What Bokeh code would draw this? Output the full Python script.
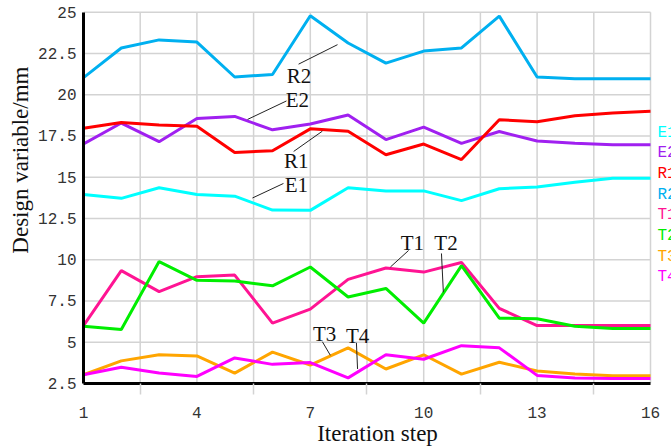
import math
from bokeh.plotting import figure
from bokeh.models import Range1d, FixedTicker, Title
from bokeh.embed import file_html
from bokeh.resources import INLINE
from bokeh.core.properties import value

steps = list(range(1, 17))
E1 = [13.95, 13.72, 14.36, 13.95, 13.85, 13.01, 12.99, 14.36, 14.17, 14.17, 13.58, 14.30, 14.40, 14.70, 14.93, 14.93]
E2 = [17.01, 18.28, 17.15, 18.56, 18.68, 17.87, 18.22, 18.77, 17.28, 18.03, 17.05, 17.77, 17.19, 17.05, 16.97, 16.97]
R1 = [17.97, 18.32, 18.16, 18.09, 16.50, 16.60, 17.93, 17.79, 16.36, 17.01, 16.07, 18.48, 18.36, 18.72, 18.89, 18.99]
R2 = [21.03, 22.83, 23.32, 23.19, 21.07, 21.22, 24.78, 23.13, 21.91, 22.64, 22.83, 24.76, 21.07, 20.97, 20.97, 20.97]
T1 = [6.01, 9.34, 8.07, 8.97, 9.07, 6.16, 7.01, 8.81, 9.50, 9.25, 9.83, 7.05, 6.01, 6.01, 6.01, 6.01]
T2 = [5.97, 5.77, 9.89, 8.75, 8.71, 8.42, 9.56, 7.74, 8.26, 6.16, 9.64, 6.46, 6.42, 5.97, 5.83, 5.83]
T3 = [3.03, 3.87, 4.24, 4.17, 3.13, 4.40, 3.62, 4.66, 3.38, 4.24, 3.07, 3.79, 3.26, 3.07, 2.97, 2.97]
T4 = [3.03, 3.48, 3.13, 2.93, 4.05, 3.66, 3.77, 2.84, 4.24, 3.97, 4.79, 4.66, 2.99, 2.84, 2.80, 2.80]

series_names = ["E1", "E2", "R1", "R2", "T1", "T2", "T3", "T4"]
series_values = [E1, E2, R1, R2, T1, T2, T3, T4]
series_colors = ["#00FFFF", "#A020F0", "#FF0000", "#00B0F0", "#FF1493", "#00EE00", "#FFA500", "#FF00FF"]

x_min, x_max = 1, 16
y_min, y_max = 2.5, 25
x_ticks = [1, 4, 7, 10, 13, 16]
x_minor = [2.5, 5.5, 8.5, 11.5, 14.5]
y_ticks = [2.5, 5, 7.5, 10, 12.5, 15, 17.5, 20, 22.5, 25]
y_tick_labels = ["2.5", "5", "7.5", "10", "12.5", "15", "17.5", "20", "22.5", "25"]

# annotation labels (data coordinates) and leader lines
ann_text = ["R2", "E2", "R1", "E1", "T3", "T4", "T1", "T2"]
ann_x = [6.70, 6.66, 6.63, 6.63, 7.38, 8.25, 9.70, 10.59]
ann_y = [21.15, 19.65, 16.00, 14.53, 5.47, 5.38, 11.00, 11.00]
lead_x0 = [6.69, 5.34, 6.56, 5.47, 7.32, 8.22, 9.60, 10.47]
lead_y0 = [21.85, 18.50, 16.56, 13.74, 5.03, 4.97, 10.56, 10.38]
lead_x1 = [7.72, 6.37, 7.32, 6.29, 7.53, 8.25, 9.12, 10.52]
lead_y1 = [23.03, 19.62, 17.79, 14.62, 4.21, 3.38, 9.56, 8.03]

# right-edge colored series names
leg_x = 16.185
leg_y = [17.70, 16.45, 15.19, 13.94, 12.69, 11.43, 10.18, 8.93]

W, H = 671, 448
p = figure(width=W, height=H, x_range=Range1d(1, 16.5556), y_range=Range1d(2.5, 25.706),
           output_backend="svg", toolbar_location=None,
           min_border_left=83, min_border_right=0, min_border_top=0, min_border_bottom=54)
p.outline_line_color = None
p.background_fill_color = "white"
p.border_fill_color = "white"
p.xgrid.visible = False
p.ygrid.visible = False

p.xaxis.ticker = FixedTicker(ticks=x_ticks, minor_ticks=x_minor)
p.yaxis.ticker = FixedTicker(ticks=y_ticks, minor_ticks=[])
p.yaxis.major_label_overrides = {t: l for t, l in zip(y_ticks, y_tick_labels)}
p.xaxis.bounds = (x_min, x_max)
p.yaxis.bounds = (y_min, y_max)

for ax in (p.xaxis, p.yaxis):
    ax.axis_line_color = "black"
    ax.axis_line_width = 3
    ax.major_tick_line_color = None
    ax.major_tick_out = 0
    ax.major_tick_in = 0
    ax.major_label_text_font = "Liberation Mono"
    ax.major_label_text_font_size = "16px"
    ax.major_label_text_color = "#333333"
p.yaxis.minor_tick_line_color = None
p.xaxis.minor_tick_line_color = "#D3D3D3"
p.xaxis.minor_tick_line_width = 1.5
p.xaxis.minor_tick_out = 11
p.xaxis.minor_tick_in = 0
p.xaxis.major_label_text_align = "left"
p.xaxis.major_label_standoff = 12
p.yaxis.major_label_standoff = 7

p.xaxis.axis_label = "Iteration step"
p.xaxis.axis_label_text_font = "Liberation Serif"
p.xaxis.axis_label_text_font_size = "23px"
p.xaxis.axis_label_text_font_style = "normal"
p.xaxis.axis_label_text_color = "#111111"
p.xaxis.axis_label_standoff = 0

# grid lines drawn from the tick lists
grid_x = sorted(x_ticks + x_minor)
p.segment(x0=grid_x, y0=[y_min] * len(grid_x), x1=grid_x, y1=[y_max] * len(grid_x),
          line_color="#D3D3D3", line_width=1.5, level="underlay")
p.segment(x0=[x_min] * len(y_ticks), y0=y_ticks, x1=[x_max] * len(y_ticks), y1=y_ticks,
          line_color="#D3D3D3", line_width=1.5, level="underlay")

for name, vals, col in zip(series_names, series_values, series_colors):
    p.line(steps, vals, line_color=col, line_width=3)

p.segment(x0=lead_x0, y0=lead_y0, x1=lead_x1, y1=lead_y1, line_color="#222222", line_width=1)
p.text(x=ann_x, y=ann_y, text=ann_text, text_font=value("Liberation Serif"),
       text_font_size="21px", text_align="center", text_baseline="middle", text_color="#111111")

p.text(x=[leg_x] * len(series_names), y=leg_y, text=series_names, text_color=series_colors,
       text_font=value("Liberation Mono"), text_font_size="16px",
       text_align="left", text_baseline="middle")

ytitle = Title(text="Design variable/mm", align="right", offset=66, vertical_align="middle",
               text_font="Liberation Serif", text_font_size="23px", text_font_style="normal",
               text_color="#111111", standoff=4)
p.add_layout(ytitle, "left")

open("out.html", "w").write(file_html(p, INLINE))
